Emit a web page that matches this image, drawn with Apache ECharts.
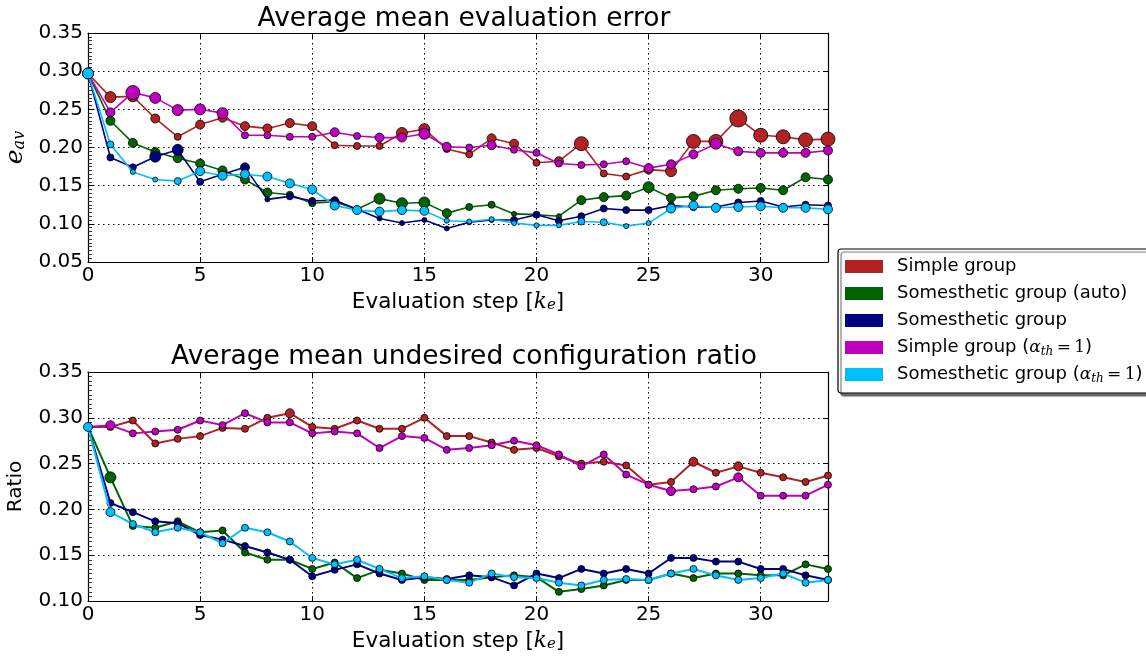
<!DOCTYPE html>
<html>
<head>
<meta charset="utf-8">
<script src="https://cdn.jsdelivr.net/npm/echarts@6/dist/echarts.min.js"></script>
<style>
  html, body { margin: 0; padding: 0; background: #fff; }
  #chart { width: 1146px; height: 656px; }
</style>
</head>
<body>
<div id="chart"></div>
<script>
// Evaluation steps (k_e)
const steps = [0, 1, 2, 3, 4, 5, 6, 7, 8, 9, 10, 11, 12, 13, 14, 15, 16, 17, 18, 19, 20, 21, 22, 23, 24, 25, 26, 27, 28, 29, 30, 31, 32, 33];

// Average mean evaluation error e_av
const errSimple   = [0.297, 0.266, 0.267, 0.238, 0.214, 0.230, 0.239, 0.228, 0.225, 0.232, 0.228, 0.203, 0.202, 0.202, 0.219, 0.224, 0.198, 0.191, 0.212, 0.205, 0.180, 0.182, 0.205, 0.166, 0.162, 0.171, 0.169, 0.208, 0.208, 0.238, 0.216, 0.214, 0.210, 0.211];
const errSomAuto  = [0.297, 0.235, 0.206, 0.194, 0.186, 0.179, 0.170, 0.158, 0.141, 0.138, 0.127, 0.129, 0.119, 0.133, 0.127, 0.128, 0.114, 0.122, 0.125, 0.113, 0.112, 0.110, 0.131, 0.135, 0.137, 0.148, 0.134, 0.136, 0.144, 0.146, 0.147, 0.144, 0.161, 0.158];
const errSom      = [0.297, 0.187, 0.174, 0.188, 0.197, 0.155, 0.165, 0.174, 0.132, 0.136, 0.130, 0.131, 0.119, 0.107, 0.101, 0.105, 0.094, 0.102, 0.105, 0.105, 0.112, 0.104, 0.110, 0.120, 0.118, 0.118, 0.124, 0.122, 0.122, 0.128, 0.130, 0.122, 0.125, 0.124];
const errSimpleA  = [0.297, 0.246, 0.272, 0.265, 0.249, 0.250, 0.245, 0.216, 0.216, 0.214, 0.214, 0.220, 0.215, 0.213, 0.213, 0.218, 0.201, 0.200, 0.203, 0.197, 0.193, 0.179, 0.177, 0.178, 0.182, 0.173, 0.178, 0.191, 0.205, 0.195, 0.193, 0.193, 0.193, 0.196];
const errSomA     = [0.297, 0.204, 0.168, 0.158, 0.156, 0.169, 0.163, 0.165, 0.162, 0.153, 0.145, 0.124, 0.118, 0.116, 0.118, 0.117, 0.104, 0.103, 0.106, 0.101, 0.098, 0.098, 0.103, 0.102, 0.097, 0.101, 0.120, 0.124, 0.121, 0.122, 0.123, 0.121, 0.121, 0.119];

// Average mean undesired configuration ratio
const ratioSimple  = [0.290, 0.290, 0.297, 0.272, 0.277, 0.280, 0.289, 0.288, 0.300, 0.305, 0.290, 0.288, 0.297, 0.288, 0.288, 0.300, 0.280, 0.280, 0.273, 0.265, 0.267, 0.258, 0.250, 0.252, 0.248, 0.227, 0.230, 0.252, 0.240, 0.247, 0.240, 0.235, 0.230, 0.237];
const ratioSomAuto = [0.290, 0.235, 0.182, 0.180, 0.187, 0.175, 0.177, 0.153, 0.145, 0.145, 0.135, 0.142, 0.125, 0.134, 0.130, 0.123, 0.123, 0.123, 0.126, 0.128, 0.126, 0.110, 0.113, 0.117, 0.123, 0.123, 0.130, 0.125, 0.130, 0.130, 0.128, 0.128, 0.140, 0.135];
const ratioSom     = [0.290, 0.207, 0.197, 0.187, 0.185, 0.172, 0.167, 0.160, 0.153, 0.145, 0.127, 0.134, 0.140, 0.130, 0.123, 0.126, 0.124, 0.128, 0.126, 0.117, 0.130, 0.125, 0.135, 0.130, 0.135, 0.130, 0.147, 0.147, 0.143, 0.143, 0.135, 0.135, 0.128, 0.123];
const ratioSimpleA = [0.290, 0.292, 0.283, 0.285, 0.287, 0.297, 0.292, 0.305, 0.295, 0.295, 0.283, 0.285, 0.283, 0.267, 0.280, 0.278, 0.265, 0.267, 0.270, 0.275, 0.270, 0.260, 0.247, 0.260, 0.238, 0.227, 0.220, 0.222, 0.225, 0.235, 0.215, 0.215, 0.215, 0.227];
const ratioSomA    = [0.290, 0.197, 0.184, 0.175, 0.180, 0.175, 0.163, 0.180, 0.175, 0.165, 0.147, 0.140, 0.145, 0.135, 0.125, 0.127, 0.123, 0.120, 0.130, 0.126, 0.125, 0.120, 0.117, 0.123, 0.124, 0.123, 0.130, 0.135, 0.128, 0.123, 0.125, 0.130, 0.120, 0.123];

// Per-point marker weight (1 = smallest ... 6 = largest)
const errSimpleW   = [4, 4, 4, 3, 2, 3, 3, 3, 3, 3, 3, 2, 2, 2, 4, 4, 2, 2, 3, 3, 2, 3, 5, 2, 2, 3, 4, 5, 5, 6, 5, 5, 5, 5];
const errSomAutoW  = [3, 3, 3, 3, 3, 3, 3, 3, 3, 2, 2, 3, 2, 4, 4, 4, 3, 2, 2, 1, 1, 1, 3, 3, 3, 4, 3, 3, 3, 3, 3, 3, 3, 3];
const errSomW      = [3, 2, 2, 4, 4, 2, 2, 3, 1, 2, 2, 2, 2, 1, 1, 1, 1, 1, 1, 2, 2, 2, 2, 2, 2, 2, 2, 2, 2, 2, 2, 2, 2, 2];
const errSimpleAW  = [3, 3, 5, 4, 4, 4, 4, 2, 2, 2, 2, 3, 2, 3, 3, 4, 3, 2, 3, 2, 2, 2, 2, 2, 2, 3, 3, 3, 4, 3, 3, 3, 3, 3];
const errSomAW     = [4, 2, 1, 1, 2, 3, 3, 3, 3, 3, 3, 3, 3, 3, 3, 3, 1, 1, 1, 1, 1, 1, 2, 2, 1, 1, 3, 3, 3, 3, 3, 3, 3, 3];
const ratioSimpleW  = [2, 2, 2, 2, 2, 2, 2, 2, 2, 3, 2, 2, 2, 2, 2, 2, 2, 2, 2, 2, 2, 2, 2, 2, 2, 2, 2, 3, 2, 3, 2, 2, 2, 2];
const ratioSomAutoW = [2, 4, 2, 2, 2, 2, 2, 2, 2, 2, 2, 2, 2, 2, 2, 2, 2, 2, 2, 2, 2, 2, 2, 2, 2, 2, 2, 2, 2, 2, 2, 2, 2, 2];
const ratioSomW     = [2, 2, 2, 2, 2, 2, 2, 2, 2, 2, 2, 2, 2, 2, 2, 2, 2, 2, 2, 2, 2, 2, 2, 2, 2, 2, 2, 2, 2, 2, 2, 2, 2, 2];
const ratioSimpleAW = [2, 3, 2, 2, 2, 2, 2, 2, 2, 2, 2, 2, 2, 2, 2, 2, 2, 2, 2, 2, 2, 2, 2, 2, 2, 2, 3, 2, 2, 3, 2, 2, 2, 2];
const ratioSomAW    = [3, 3, 2, 2, 2, 2, 2, 2, 2, 2, 2, 2, 2, 2, 2, 2, 2, 2, 2, 2, 2, 2, 2, 2, 2, 2, 2, 2, 2, 2, 2, 2, 2, 2];

const seriesNames = ['Simple group', 'Somesthetic group (auto)', 'Somesthetic group', 'Simple group (α_th=1)', 'Somesthetic group (α_th=1)'];
const seriesColors = ['#b22222', '#006400', '#000080', '#bf00bf', '#00bfff'];
const xTicks = { min: 0, max: 33, interval: 5 };
const errTicks = { min: 0.05, max: 0.35, interval: 0.05 };
const ratioTicks = { min: 0.10, max: 0.35, interval: 0.05 };

const WEIGHT_PX = [0, 5, 7, 9, 11, 14, 17];
const SANS = 'DejaVu Sans';
const SERIF = 'DejaVu Serif';

const chart = echarts.init(document.getElementById('chart'), null, { renderer: 'canvas' });

const grids = [
  { left: 88, top: 33, width: 740, height: 229, containLabel: false, outerBoundsMode: 'none' },
  { left: 88, top: 372, width: 740, height: 229, containLabel: false, outerBoundsMode: 'none' }
];

const mathRich = {
  m: { fontFamily: SERIF, fontStyle: 'italic', fontSize: 17, color: '#000' },
  s: { fontFamily: SERIF, fontStyle: 'italic', fontSize: 12, color: '#000', verticalAlign: 'bottom' },
  n: { fontFamily: SERIF, fontSize: 17, color: '#000' },
  t: { fontFamily: SANS, fontSize: 18, color: '#000' }
};
const legendText = {
  'Simple group': '{t|Simple group}',
  'Somesthetic group (auto)': '{t|Somesthetic group (auto)}',
  'Somesthetic group': '{t|Somesthetic group}',
  'Simple group (α_th=1)': '{t|Simple group (}{m|α}{s|th}{n|\u2009=\u20091}{t|)}',
  'Somesthetic group (α_th=1)': '{t|Somesthetic group (}{m|α}{s|th}{n|\u2009=\u20091}{t|)}'
};

function xAxisPair(gridIndex, withName) {
  const main = {
    type: 'value', gridIndex, position: 'bottom',
    min: xTicks.min, max: xTicks.max, interval: xTicks.interval,
    axisLine: { show: true, onZero: false, lineStyle: { color: '#000', width: 1.2 } },
    axisTick: { show: true, inside: true, length: 5, lineStyle: { color: '#000' } },
    axisLabel: { show: true, showMaxLabel: false, color: '#000', fontFamily: SANS, fontSize: 20, margin: 4 },
    splitLine: { show: true, lineStyle: { color: '#000', width: 1, type: [1.5, 3.5] } },
    name: withName ? 'Evaluation step [{k|k}{e|e}]' : '',
    nameLocation: 'middle', nameGap: 29,
    nameTextStyle: {
      fontFamily: SANS, fontSize: 21.5, color: '#000',
      rich: {
        k: { fontFamily: SERIF, fontStyle: 'italic', fontSize: 21.5, color: '#000' },
        e: { fontFamily: SERIF, fontStyle: 'italic', fontSize: 15, color: '#000', verticalAlign: 'bottom' }
      }
    }
  };
  const mirror = {
    type: 'value', gridIndex, position: 'top',
    min: xTicks.min, max: xTicks.max, interval: xTicks.interval,
    axisLine: { show: true, onZero: false, lineStyle: { color: '#000', width: 1.2 } },
    axisTick: { show: true, inside: true, length: 5, lineStyle: { color: '#000' } },
    axisLabel: { show: false },
    splitLine: { show: false }
  };
  return [main, mirror];
}

function yAxisPair(gridIndex, ticks, name, nameGap, rich) {
  const main = {
    type: 'value', gridIndex, position: 'left',
    min: ticks.min, max: ticks.max, interval: ticks.interval,
    axisLine: { show: true, onZero: false, lineStyle: { color: '#000', width: 1.2 } },
    axisTick: { show: true, inside: true, length: 5, lineStyle: { color: '#000' } },
    minorTick: { show: true, splitNumber: 10, length: 4, lineStyle: { color: '#333', width: 1 } },
    axisLabel: {
      color: '#000', fontFamily: SANS, fontSize: 20, margin: 5,
      formatter: v => v.toFixed(2)
    },
    splitLine: { show: true, lineStyle: { color: '#000', width: 1, type: [1.5, 3.5] } },
    name, nameLocation: 'middle', nameRotate: 90, nameGap,
    nameTextStyle: Object.assign({ fontFamily: SANS, fontSize: 20, color: '#000' }, rich ? { rich } : {})
  };
  const mirror = {
    type: 'value', gridIndex, position: 'right',
    min: ticks.min, max: ticks.max, interval: ticks.interval,
    axisLine: { show: true, onZero: false, lineStyle: { color: '#000', width: 1.2 } },
    axisTick: { show: true, inside: true, length: 5, lineStyle: { color: '#000' } },
    axisLabel: { show: false },
    splitLine: { show: false }
  };
  return [main, mirror];
}

function lineSeries(i, values, weights, xAxisIndex, yAxisIndex, width) {
  return {
    type: 'line',
    name: seriesNames[i],
    xAxisIndex, yAxisIndex,
    data: steps.map((s, k) => [s, values[k]]),
    clip: false,
    symbol: 'circle',
    symbolSize: (val, params) => WEIGHT_PX[weights[params.dataIndex]],
    lineStyle: { color: seriesColors[i], width },
    itemStyle: { color: seriesColors[i], borderColor: '#000', borderWidth: 0.8 },
    emphasis: { disabled: true },
    animation: false,
    z: 2 + i
  };
}

const topSets = [
  [errSimple, errSimpleW], [errSomAuto, errSomAutoW], [errSom, errSomW],
  [errSimpleA, errSimpleAW], [errSomA, errSomAW]
];
const bottomSets = [
  [ratioSimple, ratioSimpleW], [ratioSomAuto, ratioSomAutoW], [ratioSom, ratioSomW],
  [ratioSimpleA, ratioSimpleAW], [ratioSomA, ratioSomAW]
];

const series = [];
topSets.forEach((d, i) => series.push(lineSeries(i, d[0], d[1], 0, 0, 1.6)));
bottomSets.forEach((d, i) => series.push(lineSeries(i, d[0], d[1], 2, 2, 2)));

const option = {
  backgroundColor: '#fff',
  animation: false,
  title: [
    {
      text: 'Average mean evaluation error', left: 459, top: 1, textAlign: 'center',
      textStyle: { fontFamily: SANS, fontSize: 26.5, fontWeight: 'normal', color: '#000' }
    },
    {
      text: 'Average mean undesired configuration ratio', left: 459, top: 339, textAlign: 'center',
      textStyle: { fontFamily: SANS, fontSize: 26.5, fontWeight: 'normal', color: '#000' }
    }
  ],
  legend: {
    orient: 'vertical',
    left: 838, top: 249,
    padding: [7, 14, 8, 7],
    itemWidth: 38, itemHeight: 13, itemGap: 6,
    icon: 'rect',
    backgroundColor: '#fff',
    borderColor: '#000', borderWidth: 1.2, borderRadius: 3,
    shadowColor: 'rgba(0,0,0,0.55)', shadowBlur: 1, shadowOffsetX: 3, shadowOffsetY: 3,
    selectedMode: false,
    data: seriesNames.map((n, i) => ({
      name: n, icon: 'rect',
      itemStyle: { color: seriesColors[i], borderWidth: 0 }
    })),
    formatter: name => legendText[name],
    textStyle: { fontFamily: SANS, fontSize: 18, color: '#000', padding: [0, 0, 0, 9], lineHeight: 21, rich: mathRich }
  },
  grid: grids,
  xAxis: [...xAxisPair(0, true), ...xAxisPair(1, true)],
  yAxis: [
    ...yAxisPair(0, errTicks, '{e|e}{s|av}', 58, {
      e: { fontFamily: SERIF, fontStyle: 'italic', fontSize: 25, color: '#000' },
      s: { fontFamily: SERIF, fontStyle: 'italic', fontSize: 16, color: '#000', verticalAlign: 'bottom' }
    }),
    ...yAxisPair(1, ratioTicks, 'Ratio', 62, null)
  ],
  series
};

chart.setOption(option);
</script>
</body>
</html>
